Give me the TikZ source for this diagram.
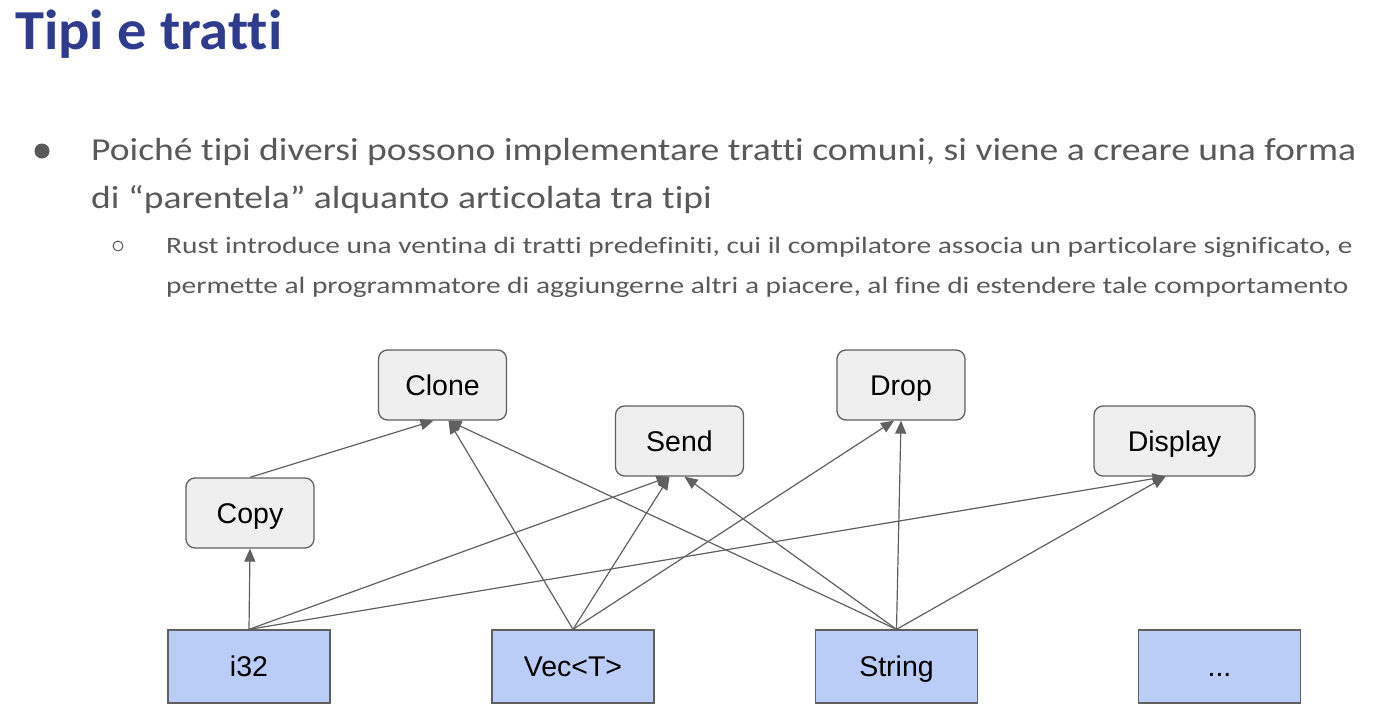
\documentclass[tikz,border=0pt]{standalone}
\usepackage{fontspec}
\setmainfont{Carlito}[RawFeature={-liga}]
\newfontfamily\titlefont{Carlito}[RawFeature={-liga}, FakeStretch=1.035]
\newfontfamily\bodyfont{Carlito}[RawFeature={-liga}, FakeStretch=1.175]
\newfontfamily\subfont{Carlito}[RawFeature={-liga}, FakeStretch=1.25]
\newfontfamily\arialf{Liberation Sans}
\usetikzlibrary{arrows.meta}
\definecolor{titleblue}{HTML}{2F3C8E}
\definecolor{txtgray}{HTML}{595959}
\definecolor{boxgray}{HTML}{EFEFEF}
\definecolor{boxblue}{HTML}{B9CDF6}
\definecolor{edgegray}{HTML}{606060}
\begin{document}
\begin{tikzpicture}[x=1pt,y=-1pt,
  trait/.style={draw=edgegray, line width=1.3pt, fill=boxgray, rounded corners=9pt,
    minimum width=128pt, minimum height=70pt, inner sep=0pt,
    text height=20.5pt, text depth=0pt,
    font=\arialf\fontsize{28.5}{30}\selectfont},
  tipo/.style={draw=edgegray, line width=1.3pt, fill=boxblue,
    minimum width=162pt, minimum height=73pt, inner sep=0pt,
    text height=20.5pt, text depth=0pt,
    font=\arialf\fontsize{28.5}{30}\selectfont},
  rel/.style={draw=edgegray, line width=1.2pt, -{Triangle[length=13pt,width=11pt]}},
  txt/.style={anchor=base west, inner sep=0pt, text=txtgray},
]
\useasboundingbox[fill=white] (0,0) rectangle (1390,720);

% title and text
\node[anchor=base west, inner sep=0pt, text=titleblue, font=\titlefont\fontsize{56.5}{60}\selectfont\bfseries] (title) at (15,49) {Tipi e tratti};
\fill[txtgray] (42,151) circle (7.5);
\node[txt, font=\bodyfont\fontsize{32}{36}\selectfont] (l1) at (91,160) {Poiché tipi diversi possono implementare tratti comuni, si viene a creare una forma};
\node[txt, font=\bodyfont\fontsize{32}{36}\selectfont] (l2) at (91,208) {di “parentela” alquanto articolata tra tipi};
\draw[txtgray, line width=1pt] (118,246) circle (5);
\node[txt, font=\subfont\fontsize{23.5}{28}\selectfont] (s1) at (166,253) {Rust introduce una ventina di tratti predefiniti, cui il compilatore associa un particolare significato, e};
\node[txt, font=\subfont\fontsize{23.5}{28}\selectfont] (s2) at (166,293) {permette al programmatore di aggiungerne altri a piacere, al fine di estendere tale comportamento};

% trait boxes
\node[trait] (clone) at (442.5,385) {Clone};
\node[trait] (copy) at (250,513) {Copy};
\node[trait] (send) at (679.5,441) {Send};
\node[trait] (drop) at (901,385) {Drop};
\node[trait, minimum width=161pt] (display) at (1174.5,441) {Display};

% type boxes
\node[tipo] (i32) at (249,666.5) {i32};
\node[tipo] (vec) at (573,666.5) {Vec<T>};
\node[tipo] (string) at (896.5,666.5) {String};
\node[tipo] (more) at (1219.5,666.5) {...};

% relations
\draw[rel] (i32.north) -- (copy.south);
\draw[rel] (copy.north) -- ([xshift=-9pt]clone.south);
\draw[rel] (i32.north) -- ([xshift=-10pt]send.south);
\draw[rel] (i32.north) -- ([xshift=-9pt]display.south);
\draw[rel] (vec.north) -- ([xshift=6pt]clone.south);
\draw[rel] (vec.north) -- ([xshift=-10pt]send.south);
\draw[rel] (vec.north) -- ([xshift=-7pt]drop.south);
\draw[rel] (string.north) -- ([xshift=6pt]clone.south);
\draw[rel] (string.north) -- ([xshift=5pt]send.south);
\draw[rel] (string.north) -- (drop.south);
\draw[rel] (string.north) -- ([xshift=-9pt]display.south);
\end{tikzpicture}
\end{document}
